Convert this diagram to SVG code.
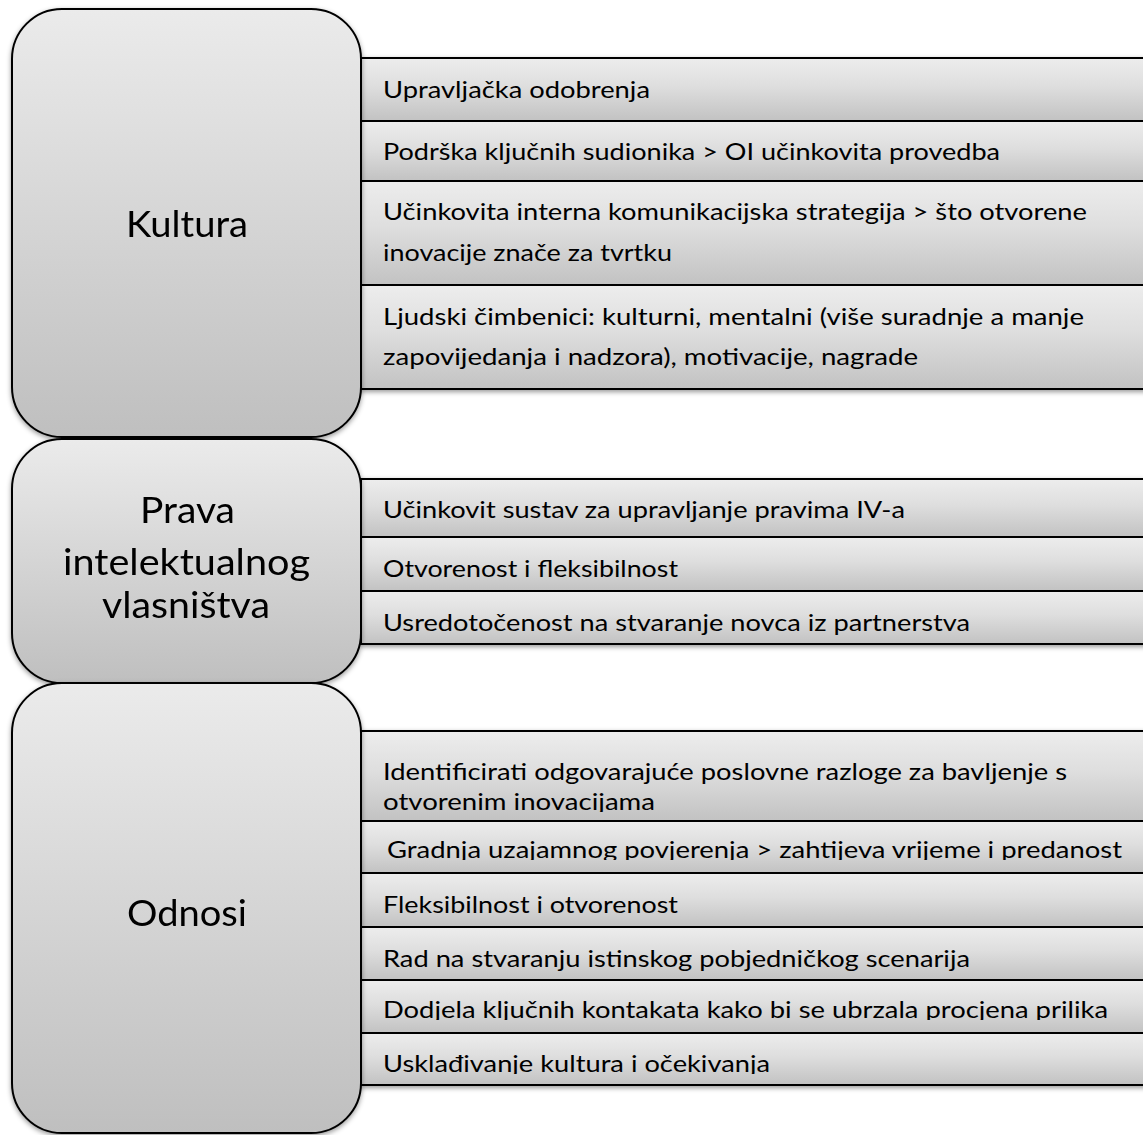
<svg xmlns="http://www.w3.org/2000/svg" width="1143" height="1135" viewBox="0 0 1143 1135">
  <defs>
    <linearGradient id="boxFill" x1="0" y1="0" x2="0" y2="1">
      <stop offset="0" stop-color="#ebebeb"/>
      <stop offset="1" stop-color="#bfbfbf"/>
    </linearGradient>
    <linearGradient id="rowFill" x1="0" y1="0" x2="0" y2="1">
      <stop offset="0" stop-color="#ededed"/>
      <stop offset="0.45" stop-color="#dedede"/>
      <stop offset="1" stop-color="#c2c2c2"/>
    </linearGradient>
    <filter id="shadow" x="-5%" y="-5%" width="110%" height="115%">
      <feDropShadow dx="0" dy="2" stdDeviation="2.5" flood-color="#000" flood-opacity="0.4"/>
    </filter>
    <clipPath id="clipL1"><rect x="361" y="790" width="800" height="22"/></clipPath>
    <clipPath id="clipL2"><rect x="361" y="830" width="800" height="30"/></clipPath>
    <clipPath id="clipL5"><rect x="361" y="990" width="800" height="30"/></clipPath>
    <clipPath id="clipL6"><rect x="361" y="1044" width="800" height="30"/></clipPath>
  </defs>
  <style>
    .box { fill: url(#boxFill); stroke: #000; stroke-width: 2; }
    .row { fill: url(#rowFill); stroke: #000; stroke-width: 2; }
    .item { font-family: Lato, "Liberation Sans", sans-serif; font-size: 23px; fill: #000; }
    .title { font-family: Lato, "Liberation Sans", sans-serif; font-size: 36px; fill: #000; }
  </style>

  <!-- Kultura -->
  <g id="kultura-items" filter="url(#shadow)">
    <rect class="row" x="361" y="58" width="800" height="63"/>
    <rect class="row" x="361" y="121" width="800" height="60"/>
    <rect class="row" x="361" y="181" width="800" height="104"/>
    <rect class="row" x="361" y="285" width="800" height="104"/>
  </g>
  <g id="kultura-text">
    <text class="item" x="383" y="98" textLength="267" lengthAdjust="spacingAndGlyphs">Upravljačka odobrenja</text>
    <text class="item" x="383" y="160" textLength="617" lengthAdjust="spacingAndGlyphs">Podrška ključnih sudionika &gt; OI učinkovita provedba</text>
    <text class="item" x="383" y="220" textLength="704" lengthAdjust="spacingAndGlyphs">Učinkovita interna komunikacijska strategija &gt; što otvorene</text>
    <text class="item" x="383" y="261" textLength="289" lengthAdjust="spacingAndGlyphs">inovacije znače za tvrtku</text>
    <text class="item" x="383" y="325" textLength="701" lengthAdjust="spacingAndGlyphs">Ljudski čimbenici: kulturni, mentalni (više suradnje a manje</text>
    <text class="item" x="383" y="365" textLength="535" lengthAdjust="spacingAndGlyphs">zapovijedanja i nadzora), motivacije, nagrade</text>
  </g>
  <g id="kultura" filter="url(#shadow)">
    <rect class="box" x="12" y="9" width="349" height="428" rx="50" ry="50"/>
    <text class="title" x="126" y="237" textLength="122" lengthAdjust="spacingAndGlyphs">Kultura</text>
  </g>

  <!-- Prava intelektualnog vlasništva -->
  <g id="prava-items" filter="url(#shadow)">
    <rect class="row" x="361" y="479" width="800" height="58"/>
    <rect class="row" x="361" y="537" width="800" height="54"/>
    <rect class="row" x="361" y="591" width="800" height="53"/>
  </g>
  <g id="prava-text">
    <text class="item" x="383" y="518" textLength="522" lengthAdjust="spacingAndGlyphs">Učinkovit sustav za upravljanje pravima IV-a</text>
    <text class="item" x="383" y="577" textLength="295" lengthAdjust="spacingAndGlyphs">Otvorenost i fleksibilnost</text>
    <text class="item" x="383" y="631" textLength="587" lengthAdjust="spacingAndGlyphs">Usredotočenost na stvaranje novca iz partnerstva</text>
  </g>
  <g id="prava" filter="url(#shadow)">
    <rect class="box" x="12" y="439" width="349" height="244" rx="50" ry="50"/>
    <text class="title" x="140" y="523" textLength="95" lengthAdjust="spacingAndGlyphs">Prava</text>
    <text class="title" x="63" y="575" textLength="247" lengthAdjust="spacingAndGlyphs">intelektualnog</text>
    <text class="title" x="102" y="618" textLength="168" lengthAdjust="spacingAndGlyphs">vlasništva</text>
  </g>

  <!-- Odnosi -->
  <g id="odnosi-items" filter="url(#shadow)">
    <rect class="row" x="361" y="731" width="800" height="90"/>
    <rect class="row" x="361" y="821" width="800" height="52"/>
    <rect class="row" x="361" y="873" width="800" height="54"/>
    <rect class="row" x="361" y="927" width="800" height="53"/>
    <rect class="row" x="361" y="980" width="800" height="53"/>
    <rect class="row" x="361" y="1033" width="800" height="52"/>
  </g>
  <g id="odnosi-text">
    <text class="item" x="383" y="780" textLength="684" lengthAdjust="spacingAndGlyphs">Identificirati odgovarajuće poslovne razloge za bavljenje s</text>
    <text class="item" x="383" y="810" textLength="272" lengthAdjust="spacingAndGlyphs" clip-path="url(#clipL1)">otvorenim inovacijama</text>
    <text class="item" x="387" y="858" textLength="735" lengthAdjust="spacingAndGlyphs" clip-path="url(#clipL2)">Gradnja uzajamnog povjerenja &gt; zahtijeva vrijeme i predanost</text>
    <text class="item" x="383" y="913" textLength="295" lengthAdjust="spacingAndGlyphs">Fleksibilnost i otvorenost</text>
    <text class="item" x="383" y="967" textLength="587" lengthAdjust="spacingAndGlyphs">Rad na stvaranju istinskog pobjedničkog scenarija</text>
    <text class="item" x="383" y="1018" textLength="725" lengthAdjust="spacingAndGlyphs" clip-path="url(#clipL5)">Dodjela ključnih kontakata kako bi se ubrzala procjena prilika</text>
    <text class="item" x="383" y="1072" textLength="387" lengthAdjust="spacingAndGlyphs" clip-path="url(#clipL6)">Usklađivanje kultura i očekivanja</text>
  </g>
  <g id="odnosi" filter="url(#shadow)">
    <rect class="box" x="12" y="683" width="349" height="450" rx="50" ry="50"/>
    <text class="title" x="127" y="926" textLength="120" lengthAdjust="spacingAndGlyphs">Odnosi</text>
  </g>
</svg>
